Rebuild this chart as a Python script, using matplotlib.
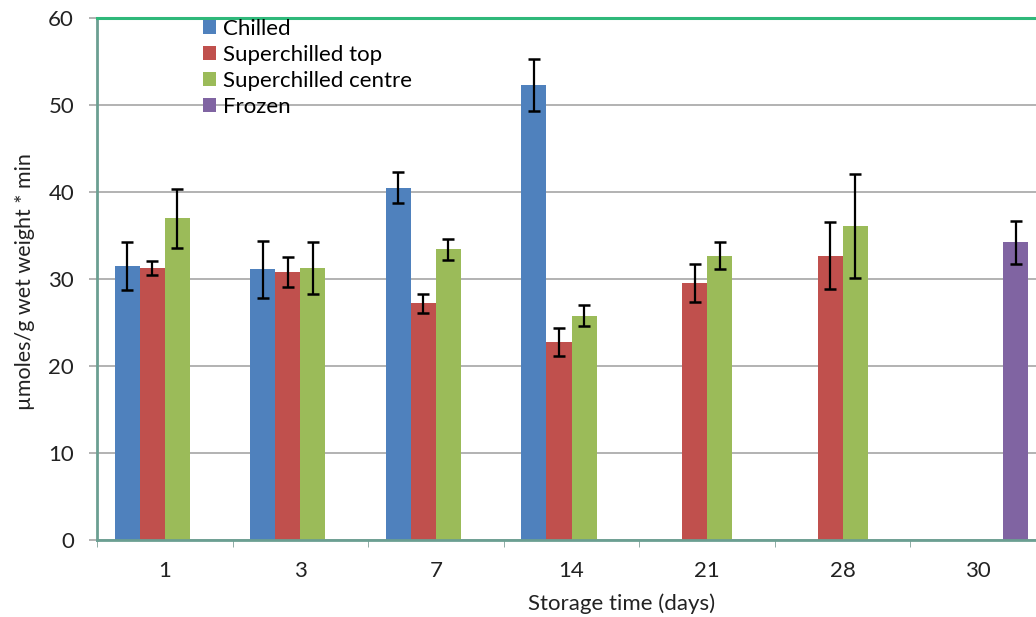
import numpy as np
import matplotlib.pyplot as plt

plt.rcParams['font.family'] = ['Lato', 'DejaVu Sans']

days = ['1', '3', '7', '14', '21', '28', '30']
series = ['Chilled', 'Superchilled top', 'Superchilled centre', 'Frozen']
colores = ['#4F81BD', '#C0504D', '#9BBB59', '#8064A2']

# nan = no sample for that storage time
chilled       = [31.5, 31.1, 40.5, 52.3, np.nan, np.nan, np.nan]
chilled_err   = [2.8, 3.3, 1.8, 3.0, np.nan, np.nan, np.nan]
sc_top        = [31.3, 30.8, 27.2, 22.8, 29.5, 32.7, np.nan]
sc_top_err    = [0.8, 1.7, 1.1, 1.6, 2.2, 3.8, np.nan]
sc_centre     = [37.0, 31.3, 33.4, 25.8, 32.7, 36.1, np.nan]
sc_centre_err = [3.4, 3.0, 1.2, 1.2, 1.5, 6.0, np.nan]
frozen        = [np.nan, np.nan, np.nan, np.nan, np.nan, np.nan, 34.2]
frozen_err    = [np.nan, np.nan, np.nan, np.nan, np.nan, np.nan, 2.5]

valores = [chilled, sc_top, sc_centre, frozen]
errores = [chilled_err, sc_top_err, sc_centre_err, frozen_err]

fig = plt.figure(figsize=(10.36, 6.17), dpi=100)
# plot area runs past the right edge of the figure
ax = fig.add_axes([97/1036, 1 - 540/617, 949/1036, 522/617])

x = np.arange(len(days))
w = 0.185
for k in range(4):
    pos = x + (k - 1.5) * w
    ax.bar(pos, valores[k], w, color=colores[k], label=series[k], zorder=2)
    ax.errorbar(pos, valores[k], yerr=errores[k], fmt='none', ecolor='black',
                elinewidth=1.6, capsize=4.5, capthick=1.8, zorder=3)

ax.set_xlim(-0.5, len(days) - 0.5)
ax.set_ylim(0, 60)
ax.set_yticks(np.arange(0, 61, 10))
ax.yaxis.grid(True, color='#a6a6a6', linewidth=1.2, zorder=0)
ax.set_axisbelow(True)

ax.set_xticks(x)
ax.set_xticklabels(days)
ax.set_xticks(np.arange(-0.5, len(days), 1), minor=True)
ax.tick_params(axis='x', which='major', length=0, pad=15, labelsize=16, colors='#222222')
ax.tick_params(axis='x', which='minor', length=5, color='#7f9f96', direction='out')
ax.tick_params(axis='y', length=6, width=1.2, colors='#a6a6a6', labelcolor='#222222',
               labelsize=16, pad=10.5)

for lado in ['left', 'bottom']:
    ax.spines[lado].set_color('#6b9f92')
    ax.spines[lado].set_linewidth(2)
ax.spines['top'].set_color('#2fb87a')
ax.spines['top'].set_linewidth(2.2)
ax.spines['right'].set_visible(False)

ax.set_xlabel('Storage time (days)', fontsize=16, color='#222222')
ax.xaxis.set_label_coords((622 - 97) / 949, -0.102)
ax.set_ylabel('µmoles/g wet weight * min', fontsize=15.5, color='#222222')
ax.yaxis.set_label_coords(-62/949, 0.496)

ax.legend(loc='upper left', bbox_to_anchor=(192/1036, 1 - 8/617),
          bbox_transform=fig.transFigure, frameon=False, fontsize=16,
          handlelength=0.6, handleheight=0.6, handletextpad=0.3,
          labelspacing=0.27, borderpad=0)

plt.savefig('out.png', dpi=100)
